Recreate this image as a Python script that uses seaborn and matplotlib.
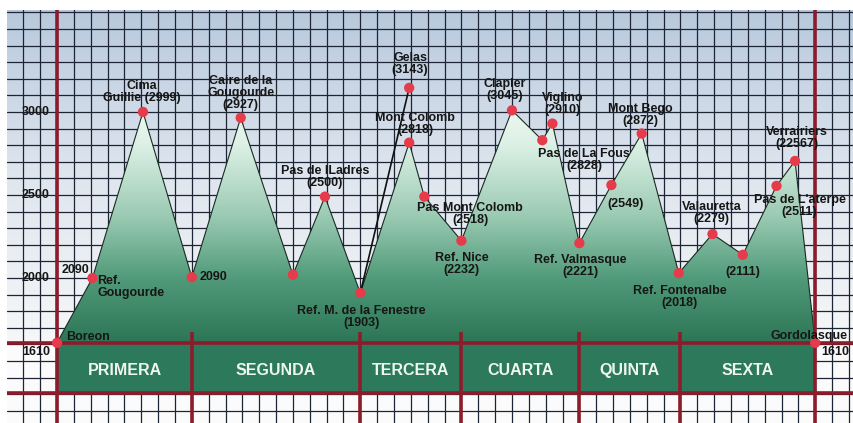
import numpy as np
import matplotlib
matplotlib.use("Agg")
import matplotlib.pyplot as plt
from matplotlib.colors import LinearSegmentedColormap
from matplotlib.patches import Polygon, Rectangle
import pandas as pd
import seaborn as sns

# route profile: distance in grid cells, altitude as drawn (m)
dist = [0, 2.1, 5.1, 8.0, 10.9, 14.0, 15.9, 18.0, 20.9, 21.8, 24.0, 27.0,
        28.8, 29.4, 31.0, 32.9, 34.7, 36.9, 38.9, 40.7, 42.7, 43.8, 45.0]
alt = [1610, 2000, 3000, 2005, 2965, 2020, 2490, 1910, 2815, 2490, 2225, 3010,
       2830, 2930, 2210, 2560, 2870, 2030, 2265, 2140, 2555, 2705, 1610]
labels = ["Boreon", "Ref.\nGougourde", "Cima\nGuillie (2999)", "2090",
          "Caire de la\nGougourde\n(2927)", "", "Pas de lLadres\n(2500)",
          "Ref. M. de la Fenestre\n(1903)", "Mont Colomb\n(2818)",
          "Pas Mont Colomb\n(2518)", "Ref. Nice\n(2232)", "Clapier\n(3045)",
          "Pas de La Fous\n(2828)", "Viglino\n(2910)", "Ref. Valmasque\n(2221)",
          "(2549)", "Mont Bego\n(2872)", "Ref. Fontenalbe\n(2018)",
          "Valauretta\n(2279)", "(2111)", "Pas de L'aterpe\n(2511)",
          "Verrairiers\n(22567)", "Gordolasque"]

# Gelas summit, reached as a side trip from Ref. M. de la Fenestre
gelas_dist = 20.9
gelas_alt = 3145
gelas_label = "Gelas\n(3143)"

stages = ["PRIMERA", "SEGUNDA", "TERCERA", "CUARTA", "QUINTA", "SEXTA"]
stage_bounds = [0, 8, 18, 24, 31, 37, 45]
ytick_vals = [2000, 2500, 3000]
base_alt = 1610

# label placement (offset in pixels from the point, alignment)
label_pos = [(9, 6, "left"), (5, -9, "left"), (-1, 20, "center"), (8, 0, "left"),
             (0, 25, "center"), (0, 0, "center"), (0, 20, "center"),
             (1, -24, "center"), (6, 19, "center"), (46, -17, "center"),
             (0, -23, "center"), (-7, 20, "center"), (42, -20, "center"),
             (10, 20, "center"), (1, -23, "center"), (14, -19, "center"),
             (-1, 19, "center"), (1, -24, "center"), (-1, 21, "center"),
             (0, -17, "center"), (23, -20, "center"), (2, 23, "center"),
             (-6, 7, "center")]

sns.set_theme(style="white")
plt.rcParams['font.family'] = ['Liberation Sans Narrow', 'Liberation Sans', 'DejaVu Sans']

fig = plt.figure(figsize=(8.54, 4.23), dpi=100)
ax = fig.add_axes([7 / 854, 0, 847 / 854, 413 / 423])
xlim = (-2.97, 47.3)
ylim = (1127, 3614)
ax.set_xlim(*xlim)
ax.set_ylim(*ylim)
ax.axis("off")

# sky
sky = LinearSegmentedColormap.from_list("sky", ["#f6f7f8", "#dfe6ee", "#b8c9dd"])
grad = np.linspace(0, 1, 256).reshape(-1, 1)
ax.imshow(grad, cmap=sky, extent=(xlim[0], xlim[1], base_alt, ylim[1]),
          origin="lower", aspect="auto", zorder=0)
ax.add_patch(Rectangle((xlim[0], ylim[0]), xlim[1] - xlim[0], base_alt - ylim[0],
                       color="#fbfbfb", zorder=0.5))

# grid
for gx in np.arange(-2, 48):
    ax.axvline(gx, color="#1d2535", lw=0.9, zorder=1)
for gy in np.arange(1200, 3700, 100):
    ax.axhline(gy, color="#1d2535", lw=0.9, zorder=1)

# mountain fill with a vertical gradient
green = LinearSegmentedColormap.from_list(
    "green", [(0, "#2c7656"), (0.25, "#509a79"), (0.5, "#9ccbb4"),
              (0.78, "#ddf1e6"), (1, "#f5fbf8")])
poly = Polygon(list(zip(dist, alt)), closed=True, facecolor="none",
               edgecolor="none", zorder=2)
ax.add_patch(poly)
im = ax.imshow(grad, cmap=green, extent=(0, 45, base_alt, 3150),
               origin="lower", aspect="auto", zorder=2)
im.set_clip_path(poly)

# stage band
band_bottom = 1307
ax.add_patch(Rectangle((stage_bounds[0], band_bottom), stage_bounds[-1] - stage_bounds[0],
                       base_alt - band_bottom, color="#2d795b", zorder=2))

# outline and side trip
prof = pd.DataFrame({"dist": dist, "alt": alt})
sns.lineplot(data=prof, x="dist", y="alt", sort=False, color="#1a2a22",
             lw=0.8, ax=ax, zorder=3)
side = pd.DataFrame({"dist": [dist[7], gelas_dist], "alt": [alt[7], gelas_alt]})
sns.lineplot(data=side, x="dist", y="alt", sort=False, color="#111111",
             lw=1.2, ax=ax, zorder=3)

# red frame lines
red = "#8e1b2c"
for i, b in enumerate(stage_bounds):
    top = ylim[1] if i in (0, len(stage_bounds) - 1) else 1675
    ax.plot([b, b], [ylim[0], top], color=red, lw=2.6, zorder=4,
            solid_capstyle="butt")
for hy in (base_alt, band_bottom):
    ax.axhline(hy, color=red, lw=2.6, zorder=4)

# points
pts = pd.DataFrame({"dist": dist + [gelas_dist], "alt": alt + [gelas_alt]})
sns.scatterplot(data=pts, x="dist", y="alt", color="#e63b4b", s=55,
                edgecolor="none", ax=ax, zorder=6)
ax.set_xlabel("")
ax.set_ylabel("")

tkw = dict(fontsize=9, fontweight="bold", color="#161616", linespacing=1.0,
           zorder=7)
for x, y, lab, (dx, dy, ha) in zip(dist, alt, labels, label_pos):
    if lab:
        ax.annotate(lab, (x, y), xytext=(dx, dy), textcoords="offset pixels",
                    ha=ha, va="center", **tkw)
ax.annotate(gelas_label, (gelas_dist, gelas_alt), xytext=(1, 24),
            textcoords="offset pixels", ha="center", va="center", **tkw)
ax.annotate("2090", (dist[1], alt[1]), xytext=(-3, 8), textcoords="offset pixels",
            ha="right", va="center", **tkw)

# altitude labels
for v in ytick_vals:
    ax.text(-1.25, v, str(v), ha="center", va="center", **tkw)
ax.text(-1.25, 1556, str(base_alt), ha="center", va="center", **tkw)
ax.text(46.2, 1556, str(base_alt), ha="center", va="center", **tkw)

# stage names
for name, a, b in zip(stages, stage_bounds[:-1], stage_bounds[1:]):
    ax.text((a + b) / 2, 1442, name, ha="center", va="center", fontsize=11.5,
            fontweight="bold", color="#eef6f0", zorder=7)

fig.savefig("out.png", dpi=100, facecolor="white")
